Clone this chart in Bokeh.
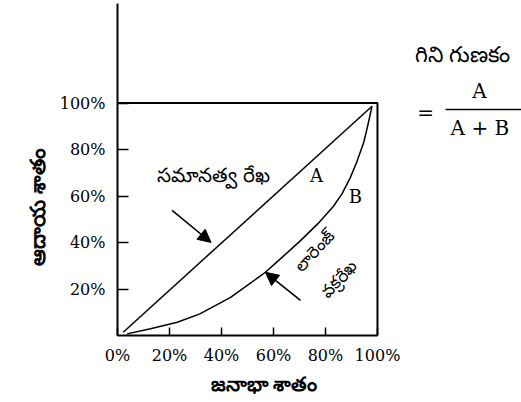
import math
from bokeh.plotting import figure
from bokeh.models import Range1d, FixedTicker, Arrow, NormalHead, Title
from bokeh.core.properties import value
from bokeh.embed import file_html
from bokeh.resources import INLINE

# ---- data ----
x_ticks = [0, 20, 40, 60, 80, 100]
x_tick_labels = ["0%", "20%", "40%", "60%", "80%", "100%"]
y_ticks = [20, 40, 60, 80, 100]
y_tick_labels = ["20%", "40%", "60%", "80%", "100%"]

equality_x = [2.2, 97.9]
equality_y = [1.4, 98.6]

lorenz_x = [3.7, 12.7, 23, 31.7, 43.5, 56.9, 63.5, 70.4, 77, 83, 86.4, 89.6, 92, 94.7, 96, 97.9]
lorenz_y = [0.7, 2.9, 5.7, 9.3, 16.4, 27.2, 33.8, 40.8, 48, 55.5, 61, 68, 74.5, 83, 89, 98.6]

box_x = [0, 100, 100]
box_y = [100, 100, 0]

x_title = "జనాభా శాతం"
y_title = "ఆదాయ శాతం"
equality_label = "సమానత్వ రేఖ"
lorenz_label_1 = "లారెంజ్"
lorenz_label_2 = "వక్రరేఖ"
gini_label = "గిని గుణకం"

SERIF = "DejaVu Serif"
TEL = "Noto Sans"

p = figure(width=521, height=402, output_backend="svg", toolbar_location=None,
           x_range=Range1d(0, 155.4), y_range=Range1d(0, 142.8),
           min_border_left=117, min_border_right=0, min_border_top=3,
           min_border_bottom=67)
p.outline_line_color = None
p.grid.visible = False
p.background_fill_color = "white"
p.border_fill_color = "white"

for ax in (p.xaxis[0], p.yaxis[0]):
    ax.axis_line_width = 2
    ax.axis_line_color = "black"
    ax.major_tick_line_color = "black"
    ax.major_tick_line_width = 1.5
    ax.major_tick_out = 0
    ax.minor_tick_line_color = None
    ax.major_label_text_font = SERIF
    ax.major_label_text_font_size = "16px"
    ax.major_label_text_color = "black"

xa = p.xaxis[0]
xa.ticker = FixedTicker(ticks=x_ticks)
xa.major_label_overrides = dict(zip(x_ticks, x_tick_labels))
xa.bounds = (0, 100)
xa.major_tick_in = 8
xa.major_label_standoff = 10

ya = p.yaxis[0]
ya.ticker = FixedTicker(ticks=y_ticks)
ya.major_label_overrides = dict(zip(y_ticks, y_tick_labels))
ya.major_tick_in = 11
ya.major_label_standoff = 12

# axis titles
p.add_layout(Title(text=x_title, align="left", offset=93, standoff=0,
                   text_font=TEL, text_font_size="20px", text_font_style="bold",
                   text_color="black"), "below")
p.add_layout(Title(text=y_title, align="left", offset=70, standoff=11,
                   text_font=TEL, text_font_size="21px", text_font_style="bold",
                   text_color="black"), "left")

# box
p.line(box_x, box_y, line_color="black", line_width=2)
# equality line and lorenz curve
p.line(equality_x, equality_y, line_color="black", line_width=1.5)
p.line(lorenz_x, lorenz_y, line_color="black", line_width=1.5, line_join="round")

# arrows
arrow_tails = [(21.0, 53.8), (70.4, 15.1)]
arrow_tips = [(36.0, 40.0), (56.9, 27.2)]
for (x0, y0), (x1, y1) in zip(arrow_tails, arrow_tips):
    p.add_layout(Arrow(end=NormalHead(size=13, fill_color="black", line_color="black"),
                       x_start=x0, y_start=y0, x_end=x1, y_end=y1,
                       line_color="black", line_width=1.6))

# texts in plot
p.text(x=[36.9], y=[69.2], text=[equality_label], text_font=value(TEL),
       text_font_size="20px", text_align="center", text_baseline="middle", text_color="black")
p.text(x=[76.5, 91.5], y=[68.8, 59.8], text=["A", "B"], text_font=value(SERIF),
       text_font_size="18px", text_align="center", text_baseline="middle", text_color="black")
ang = math.radians(47)
p.text(x=[75.4, 85.0], y=[36.6, 24.5], text=[lorenz_label_1, lorenz_label_2],
       angle=ang, text_font=value(TEL), text_font_size="17px",
       text_align="center", text_baseline="middle", text_color="black")

# gini
p.text(x=[114.6], y=[121.3], text=[gini_label], text_font=value(TEL),
       text_font_size="22px", text_align="left", text_baseline="middle", text_color="black")
p.text(x=[118.5], y=[95.9], text=["="], text_font=value(SERIF),
       text_font_size="20px", text_align="center", text_baseline="middle", text_color="black")
p.text(x=[139.2, 139.4], y=[105.2, 89.2], text=["A", "A + B"], text_font=value(SERIF),
       text_font_size="20px", text_align="center", text_baseline="middle", text_color="black")
frac_x = [126.2, 155.4]
frac_y = [97.2, 97.2]
p.line(frac_x, frac_y, line_color="black", line_width=1.5)

open("out.html", "w").write(file_html(p, INLINE))
